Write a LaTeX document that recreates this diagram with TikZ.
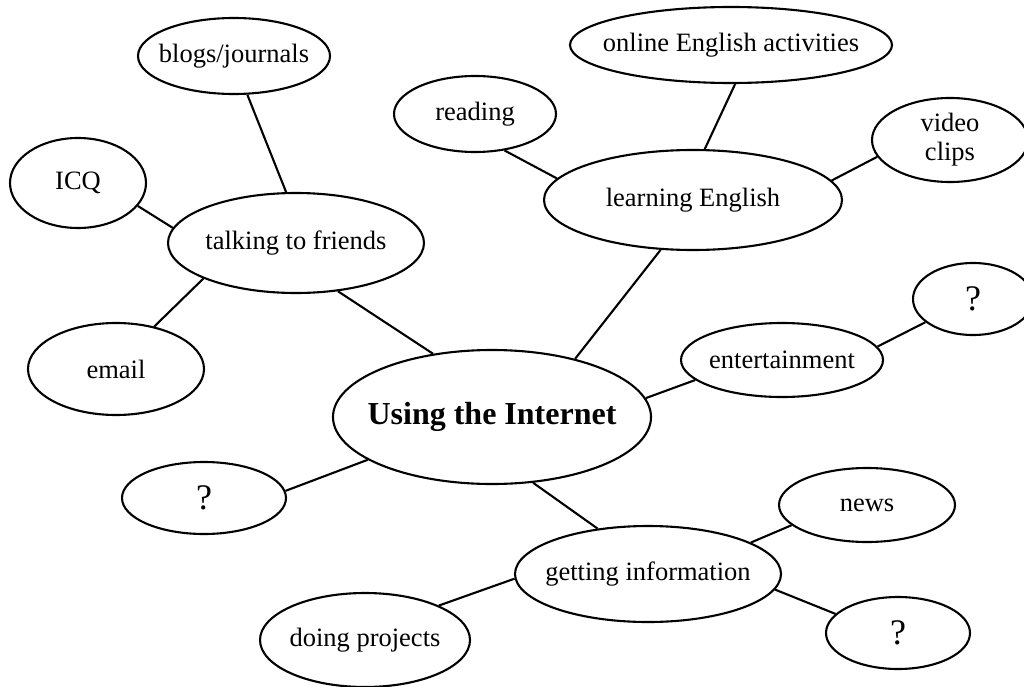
\documentclass[tikz,border=0pt]{standalone}
\usepackage{fontspec}
\setmainfont{Liberation Serif}
\usetikzlibrary{shapes.geometric}
\newcommand{\T}[1]{\makebox[0pt]{#1}}
\begin{document}
\begin{tikzpicture}[x=1pt,y=-1pt,
  bub/.style={ellipse, draw, line width=2.1pt, inner sep=0pt, font=\fontsize{26.5}{29}\selectfont},
  big/.style={bub, font=\fontsize{32}{36}\selectfont\bfseries},
  qm/.style={bub, font=\fontsize{36}{40}\selectfont},
  lnk/.style={line width=2.1pt}]
\fill[white] (0,0) rectangle (1024,687);
\useasboundingbox (0,0) rectangle (1024,687);

\node[bub, minimum width=192pt, minimum height=76pt]  (blogs)   at (234,56)  {\T{blogs/journals}};
\node[bub, minimum width=136pt, minimum height=90pt]  (icq)     at (78,183)  {\T{ICQ}};
\node[bub, minimum width=256pt, minimum height=100pt] (talk)    at (296,243) {\T{talking to friends}};
\node[bub, minimum width=176pt, minimum height=92pt]  (email)   at (116,369) {\T{email}};
\node[bub, minimum width=322pt, minimum height=76pt]  (online)  at (731,45)  {\T{online English activities}};
\node[bub, minimum width=162pt, minimum height=76pt]  (reading) at (475,114) {\T{reading}};
\node[bub, minimum width=298pt, minimum height=100pt] (learn)   at (693,200) {\T{learning English}};
\node[bub, minimum width=156pt, minimum height=84pt]  (video)   at (950,140) {\T{\begin{tabular}{@{}c@{}}video\\clips\end{tabular}}};
\node[big, minimum width=318pt, minimum height=134pt] (using)   at (492,417) {\T{Using the Internet}};
\node[bub, minimum width=202pt, minimum height=74pt]  (ent)     at (782,360) {\T{entertainment}};
\node[qm,  minimum width=120pt, minimum height=72pt]  (qr)      at (973,299) {\T{?}};
\node[qm,  minimum width=164pt, minimum height=72pt]  (ql)      at (204,498) {\T{?}};
\node[bub, minimum width=176pt, minimum height=74pt]  (news)    at (867,505) {\T{news}};
\node[bub, minimum width=266pt, minimum height=96pt]  (getinfo) at (648,574) {\T{getting information}};
\node[bub, minimum width=210pt, minimum height=94pt]  (doing)   at (365,640) {\T{doing projects}};
\node[qm,  minimum width=144pt, minimum height=72pt]  (qbr)     at (898,633) {\T{?}};

\draw[lnk] (blogs.-71)   -- (talk.101);
\draw[lnk] (icq.-21)     -- (talk.173.5);
\draw[lnk] (talk.201)    -- (email.48.6);
\draw[lnk] (talk.-49.4)  -- (using.133.6);
\draw[lnk] (ql.5.6)      -- (using.199.7);
\draw[lnk] (using.35.7)  -- (learn.-123.4);
\draw[lnk] (using.7.4)   -- (ent.193.2);
\draw[lnk] (ent.8.9)     -- (qr.-154.4);
\draw[lnk] (using.-58.8) -- (getinfo.138);
\draw[lnk] (getinfo.17.9) -- (news.-165.8);
\draw[lnk] (getinfo.-7.7) -- (qbr.163.6);
\draw[lnk] (doing.25.3)  -- (getinfo.182.6);
\draw[lnk] (reading.-51.1) -- (learn.171.6);
\draw[lnk] (online.-84.1) -- (learn.77.3);
\draw[lnk] (learn.8.4)   -- (video.-167.2);
\end{tikzpicture}
\end{document}
